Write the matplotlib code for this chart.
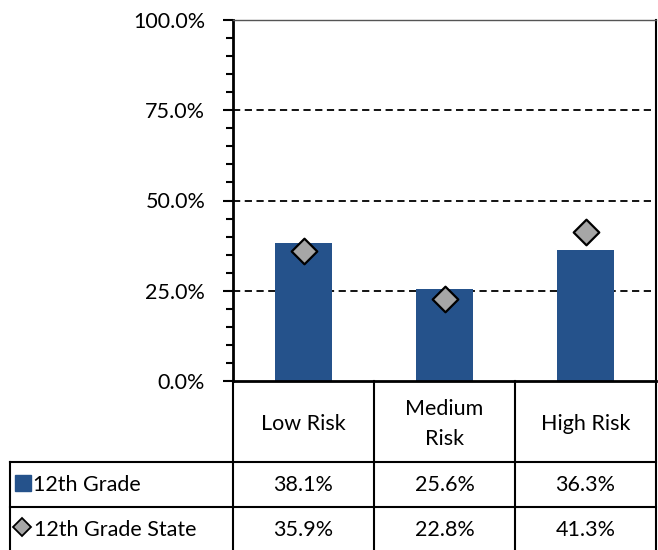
import matplotlib
matplotlib.use("Agg")
import matplotlib.pyplot as plt
import matplotlib.transforms as mtransforms
from matplotlib.lines import Line2D
from matplotlib.ticker import MultipleLocator, FuncFormatter

# data
categories = ["Low Risk", "Medium\nRisk", "High Risk"]
grade12 = [38.1, 25.6, 36.3]
grade12_state = [35.9, 22.8, 41.3]
series_names = ["12th Grade", "12th Grade State"]

bar_color = "#25528B"
marker_color = "#A6A6A6"

plt.rcParams["font.family"] = ["Lato", "DejaVu Sans"]
plt.rcParams["font.size"] = 15

W, H = 658, 550
fig = plt.figure(figsize=(W / 100, H / 100), dpi=100)
ax = fig.add_axes([233 / W, 1 - 381 / H, (656 - 233) / W, (381 - 20) / H])

x = list(range(len(categories)))
ax.bar(x, grade12, width=0.4, color=bar_color, zorder=2)
ax.scatter(x, grade12_state, marker="D", s=170, color=marker_color,
           edgecolor="black", linewidth=1.6, zorder=3)

ax.set_xlim(-0.5, 2.5)
ax.set_ylim(0, 100)
ax.yaxis.set_major_locator(MultipleLocator(25))
ax.yaxis.set_minor_locator(MultipleLocator(5))
ax.yaxis.set_major_formatter(FuncFormatter(lambda v, p: f"{v:.1f}%"))
ax.tick_params(axis="y", which="major", length=7, width=1.5, pad=13, labelsize=15.5)
ax.tick_params(axis="y", which="minor", length=5, width=1.5)
ax.set_xticks([])

for v in [25, 50, 75, 100]:
    ax.axhline(v, color="black", linestyle=(0, (4, 2.5)), linewidth=1.3, zorder=1)

for side in ["left", "bottom"]:
    ax.spines[side].set_linewidth(2)
    ax.spines[side].set_color("black")
ax.spines["right"].set_linewidth(1.5)
ax.spines["top"].set_linewidth(1.0)
ax.spines["top"].set_color("#555555")

# data table below the axes
trans = mtransforms.blended_transform_factory(ax.transData, ax.transAxes)
px = lambda yp: -(yp - 381) / (381 - 20)   # pixel row -> axes fraction
y_hdr, y_r1, y_r2, y_end = px(381), px(462), px(507), px(560)
fig_px = mtransforms.blended_transform_factory(fig.transFigure, ax.transAxes)
lw = 1.5

def line(xs, ys, tr):
    ax.add_artist(Line2D(xs, ys, transform=tr, color="black", linewidth=lw, clip_on=False))

for xb in [0.5, 1.5, 2.5]:
    line([xb, xb], [y_hdr, y_end], trans)
line([-0.5, -0.5], [y_hdr, y_end], trans)
line([10 / W, 10 / W], [y_r1, y_end], fig_px)
for yy in [y_r1, y_r2]:
    line([10 / W, 656 / W], [yy, yy], fig_px)

t_hdr, t_r1, t_r2 = px(424), px(485), px(530)
for i, c in enumerate(categories):
    ax.text(i, t_hdr, c, transform=trans, ha="center", va="center",
            fontsize=15.5, linespacing=1.6)
    ax.text(i, t_r1, f"{grade12[i]:.1f}%", transform=trans,
            ha="center", va="center", fontsize=15.5)
    ax.text(i, t_r2, f"{grade12_state[i]:.1f}%", transform=trans,
            ha="center", va="center", fontsize=15.5)

# legend keys
ax.add_artist(Line2D([23 / W], [px(483)], transform=fig_px, marker="s",
                     markersize=11.5, color=bar_color, linestyle="none", clip_on=False))
ax.text(33 / W, t_r1, series_names[0], transform=fig_px,
        ha="left", va="center", fontsize=15.5)
ax.add_artist(Line2D([22 / W], [px(527)], transform=fig_px, marker="D",
                     markersize=9, markerfacecolor=marker_color, markeredgecolor="black",
                     markeredgewidth=1.3, linestyle="none", clip_on=False))
ax.text(34 / W, t_r2, series_names[1], transform=fig_px,
        ha="left", va="center", fontsize=15.5)

fig.savefig("out.png", dpi=100)
